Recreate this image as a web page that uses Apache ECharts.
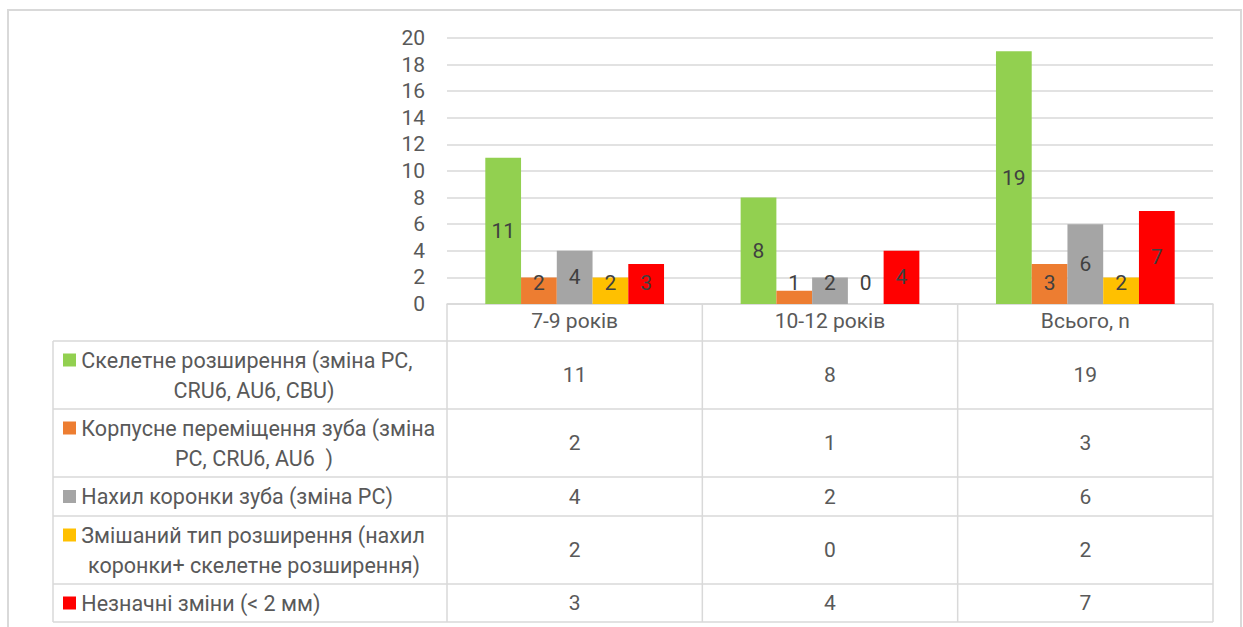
<!DOCTYPE html>
<html><head><meta charset="utf-8">
<script src="https://cdn.jsdelivr.net/npm/echarts@6/dist/echarts.min.js"></script>
<style>html,body{margin:0;padding:0;background:#fff}#c{width:1243px;height:627px}</style>
</head><body><div id="c"></div>
<script>
// ---- data ----
const categories = ['7-9 років', '10-12 років', 'Всього, n'];
const seriesNames = [
  'Скелетне розширення (зміна PC, CRU6, AU6, CBU)',
  'Корпусне переміщення зуба (зміна PC, CRU6, AU6  )',
  'Нахил коронки зуба (зміна PC)',
  'Змішаний тип розширення (нахил коронки+ скелетне розширення)',
  'Незначні зміни (< 2 мм)'
];
const skeletal = [11, 8, 19];
const bodily = [2, 1, 3];
const tipping = [4, 2, 6];
const mixed = [2, 0, 2];
const minor = [3, 4, 7];

// ---- layout / style ----
const values = [skeletal, bodily, tipping, mixed, minor];
const colors = ['#92d050', '#ed7d31', '#a5a5a5', '#ffc000', '#ff0000'];
const wrapAfter = ['PC,', '(зміна', null, '(нахил', null];
const FONT = 'Roboto';
const TXT = '#595959';
const LINE = '#d9d9d9';

const chart = echarts.init(document.getElementById('c'), null, {renderer: 'svg'});
chart.setOption({
  animation: false,
  backgroundColor: '#fff',
  grid: {left: 447, right: 30, top: 38, bottom: 323},
  xAxis: {
    type: 'category', data: categories,
    axisLine: {lineStyle: {color: LINE, width: 1.5}},
    axisTick: {show: false},
    axisLabel: {color: TXT, fontSize: 21, fontFamily: FONT, margin: 6}
  },
  yAxis: {
    type: 'value', min: 0, max: 20, interval: 2,
    axisLine: {show: false}, axisTick: {show: false},
    splitLine: {lineStyle: {color: LINE, width: 1.5}},
    axisLabel: {color: TXT, fontSize: 21, fontFamily: FONT, margin: 22}
  },
  series: values.map((arr, i) => ({
    type: 'bar', name: seriesNames[i], barGap: 0, barCategoryGap: '30%',
    itemStyle: {color: colors[i]},
    label: {show: true, position: 'inside', color: '#404040', fontSize: 21, fontFamily: FONT},
    data: arr.slice()
  }))
});

// labels of short bars sit a little above the axis (as in the spreadsheet chart)
const y0 = chart.convertToPixel({yAxisIndex: 0}, 0);
const pxPerUnit = y0 - chart.convertToPixel({yAxisIndex: 0}, 1);
chart.setOption({
  series: values.map(arr => ({
    data: arr.map(v => (v * pxPerUnit / 2 < 24)
      ? {value: v, label: {position: 'insideBottom', distance: 11}}
      : v)
  }))
});

// ---- data table under the axis ----
const xc0 = chart.convertToPixel({xAxisIndex: 0}, 0);
const xc1 = chart.convertToPixel({xAxisIndex: 0}, 1);
const band = xc1 - xc0;
const colLeft = xc0 - band / 2;
const colRight = colLeft + band * categories.length;
const tableLeft = 53;
const rowH = [37, 68, 68, 39, 68, 38];
const rowTop = [y0];
rowH.forEach((h, k) => rowTop.push(rowTop[k] + h));
const bottom = rowTop[rowTop.length - 1];

const g = [];
g.push({type: 'rect', shape: {x: 8, y: 10, width: 1233, height: 660},
  style: {fill: 'none', stroke: LINE, lineWidth: 2}, silent: true});
for (let k = 1; k < rowTop.length; k++) {
  g.push({type: 'line', shape: {x1: tableLeft, y1: rowTop[k], x2: colRight, y2: rowTop[k]},
    style: {stroke: LINE, lineWidth: 1.5}});
}
for (let j = 0; j <= categories.length; j++) {
  const x = colLeft + j * band;
  g.push({type: 'line', shape: {x1: x, y1: y0, x2: x, y2: bottom},
    style: {stroke: LINE, lineWidth: 1.5}});
}
g.push({type: 'line', shape: {x1: tableLeft, y1: rowTop[1], x2: tableLeft, y2: bottom},
  style: {stroke: LINE, lineWidth: 1.5}});

values.forEach((arr, i) => {
  const top = rowTop[i + 1], h = rowH[i + 1], cy = top + h / 2;
  arr.forEach((v, j) => {
    g.push({type: 'text', x: xc0 + j * band, y: cy,
      style: {text: String(v), fill: TXT, font: '21px ' + FONT, align: 'center', verticalAlign: 'middle'}});
  });
  const name = seriesNames[i];
  let line1 = name, line2 = null;
  if (wrapAfter[i]) {
    const p = name.indexOf(wrapAfter[i]) + wrapAfter[i].length;
    line1 = name.slice(0, p);
    line2 = name.slice(p + 1);
  }
  const lh = 30;
  const y1 = line2 ? cy - lh / 2 : cy;
  g.push({type: 'text', x: 63, y: y1,
    style: {
      text: '{sq|}{t| ' + line1 + '}',
      align: 'left', verticalAlign: 'middle',
      rich: {
        sq: {width: 13, height: 13, backgroundColor: colors[i]},
        t: {fill: TXT, fontSize: 21.5, fontFamily: FONT}
      }
    }});
  if (line2) {
    g.push({type: 'text', x: 254, y: cy + lh / 2,
      style: {text: line2, fill: TXT, font: '21.5px ' + FONT, align: 'center', verticalAlign: 'middle'}});
  }
});
chart.setOption({graphic: g});
</script>
</body></html>
